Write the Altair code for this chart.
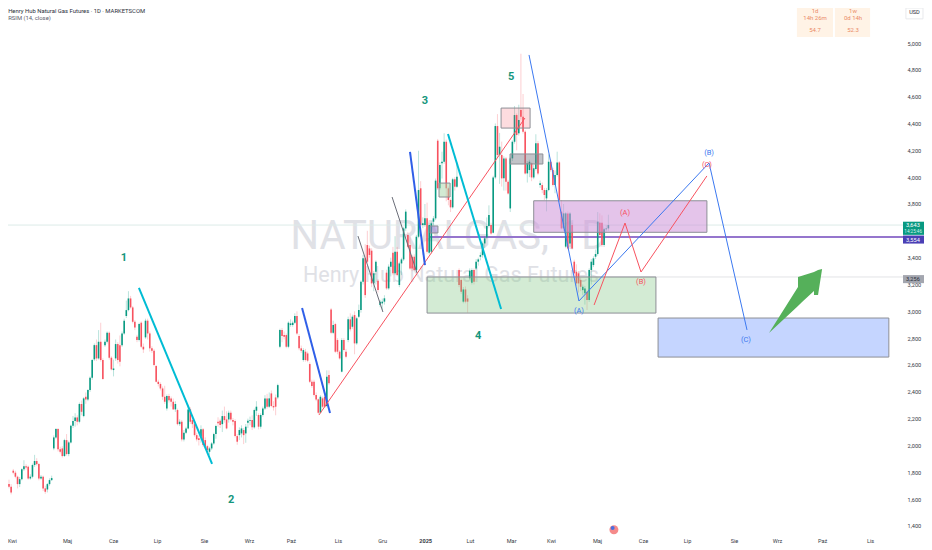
import altair as alt
import pandas as pd

# ---------- candles (price in thousandths as on the axis) ----------
opens = [
 1712,1692,1812,1797,1767,1712,1749,1822,1846,1841,1754,1767,1854,1884,1861,1754,1767,1680,1672,1712,1742,
 1978,2060,2122,1971,1978,1921,2040,1936,2023,2147,2182,2209,2177,2309,2219,2363,2343,2413,2505,2642,2748,2649,2773,2637,2748,2773,2840,2654,2562,2649,2756,2748,2748,2835,2965,3009,3096,3029,2922,2811,2786,2915,2736,2806,2930,2835,
 2724,2706,2592,2475,2458,2425,2363,2276,2368,2351,2326,2269,2264,2159,2177,2045,2095,2127,2269,2189,2159,2077,2053,2065,2120,2040,1995,1953,1978,2015,2085,2177,2184,2159,2219,2194,2194,2244,2189,2182,2070,2077,2090,2115,2090,2169,2184,2189,2135,2259,2227,2140,2227,2276,2351,2289,2388,2294,2358,2358,
 2736,2860,2823,2823,2736,2898,2898,2915,2965,2816,2724,2637,2699,2686,2607,2475,2475,2376,2344,2244,2351,2363,2294,2525,
 3014,2840,2905,2786,2699,2550,2786,2699,2786,2940,2885,2972,2761,2960,3010,3221,3395,3494,3469,3452,3208,3295,3228,3047,3059,3072,3288,3171,3333,3437,3283,3444,3196,3357,3387,3618,3569,3494,3407,3407,3308,3556,3917,3643,3643,3693,3437,3444,3668,3693,4272,3917,4103,4115,4264,3917,3830,3775,3984,3929,
 3308,3233,3072,3163,3096,3246,3213,3308,3320,3370,3407,3419,3506,3551,3636,3643,3586,3998,4381,4165,4165,3991,4140,3966,3767,4140,4264,4463,4327,4500,4451,4339,4028,4053,4103,3998,4061,4252,3941,3941,3904,3842,3904,4115,4053,3941,4016,4110,3743,3618,3482,3730,3506,3643,3370,3295,3283,3233,3158,3134,3146,3084,3308,3345,3407,3427,3661,3661,3494,3611,3618,
]
closes = [
 1692,1650,1797,1767,1712,1749,1822,1846,1836,1754,1767,1854,1884,1861,1754,1767,1680,1655,1712,1742,1757,
 2060,2122,1971,1953,1921,2040,1936,2023,2147,2182,2209,2177,2309,2251,2351,2343,2413,2505,2637,2748,2649,2773,2637,2495,2773,2840,2654,2567,2574,2756,2637,2624,2835,2930,3009,3096,3029,2922,2880,2786,2905,2736,2716,2930,2835,2724,
 2706,2599,2475,2458,2425,2363,2326,2368,2338,2326,2269,2309,2159,2177,2045,2095,2127,2269,2177,2159,2077,2045,2040,2120,2003,1995,1966,1978,2015,2085,2145,2165,2152,2219,2189,2127,2244,2194,2177,2070,2028,2115,2127,2077,2140,2184,2189,2135,2264,2289,2140,2227,2276,2351,2289,2351,2294,2284,2289,2450,
 2860,2816,2811,2736,2915,2910,2915,2965,2835,2724,2706,2711,2637,2632,2475,2443,2376,2343,2244,2363,2289,2289,2512,2463,
 2840,2898,2699,2699,2649,2786,2711,2662,2940,2866,2960,2761,2948,3010,3221,3395,3121,3370,3420,3208,3283,3370,3159,3072,3072,3097,3171,3333,3370,3283,3444,3270,3357,3387,3618,3743,3482,3320,3320,3308,3556,3904,3643,3656,3693,3444,3643,3656,3693,3974,3917,4091,4115,4264,3917,3830,3775,3984,3929,4004,
 3196,3146,3163,3072,3072,3303,3308,3221,3370,3387,3419,3506,3544,3636,3718,3581,3998,4381,4165,4227,3991,4140,3966,3879,4140,4264,4463,4314,4426,4451,4339,4028,4103,4115,3998,4066,4252,4028,3954,3904,3867,3904,4115,4053,3941,4016,4110,3830,3618,3730,3730,3469,3730,3469,3283,3208,3208,3183,3183,3171,3084,3308,3370,3395,3427,3668,3569,3494,3611,3618,3643,
]
highs = [
 1745,1712,1825,1812,1775,1765,1830,1890,1860,1850,1785,1865,1930,1905,1870,1780,1775,1700,1720,1755,1775,
 2075,2130,2130,1990,1995,2050,2085,2035,2155,2220,2240,2225,2320,2335,2360,2395,2420,2515,2645,2760,2790,2860,2915,2650,2790,2850,2850,2665,2640,2790,2770,2820,2850,2945,3080,3150,3115,3040,2935,2825,2915,2925,2760,2945,2945,2850,
 2740,2720,2600,2490,2470,2440,2445,2380,2385,2365,2350,2330,2275,2195,2190,2115,2140,2290,2285,2210,2175,2095,2075,2150,2130,2060,2005,1990,2025,2095,2155,2210,2200,2260,2290,2255,2260,2260,2205,2195,2085,2135,2150,2130,2160,2200,2215,2225,2275,2330,2240,2240,2290,2375,2385,2395,2410,2330,2380,2460,
 2870,2875,2850,2835,2925,2940,2930,2985,3000,2830,2745,2725,2720,2700,2620,2490,2490,2395,2350,2375,2365,2375,2560,2560,
 3025,2930,2915,2800,2710,2800,2800,2720,2960,2985,2975,3000,2960,3050,3230,3420,3500,3600,3490,3470,3300,3380,3240,3085,3095,3120,3310,3350,3400,3480,3560,3480,3370,3400,3630,3760,3590,3560,3420,3425,3570,4197,3970,3700,3800,3810,3655,3670,3710,3990,4285,4110,4190,4327,4280,3930,3840,3995,4000,4110,
 3320,3245,3180,3185,3120,3320,3320,3320,3390,3400,3440,3520,3560,3700,3790,3660,4010,4400,4470,4330,4265,4155,4150,3980,4150,4275,4530,4475,4540,4920,4620,4350,4120,4130,4110,4090,4320,4270,3975,3960,3920,3920,4170,4130,4070,4050,4190,4120,3830,3800,3740,3745,3740,3660,3385,3350,3300,3250,3200,3190,3160,3320,3390,3410,3460,3740,3730,3715,3620,3640,3720,
]
lows = [
 1680,1635,1785,1755,1680,1690,1740,1810,1820,1745,1745,1755,1840,1850,1740,1745,1660,1640,1650,1700,1735,
 1965,2050,1955,1940,1910,1915,1925,1920,2015,2130,2140,2150,2165,2225,2210,2310,2330,2400,2490,2630,2630,2640,2625,2490,2735,2760,2640,2560,2515,2630,2610,2590,2735,2825,2950,3000,3020,2910,2860,2770,2775,2725,2690,2795,2790,2700,
 2690,2590,2470,2440,2410,2340,2310,2260,2320,2290,2265,2250,2150,2145,2030,2030,2085,2120,2160,2130,2065,2030,2000,2020,1990,1975,1950,1930,1965,2005,2050,2140,2130,2100,2170,2120,2170,2180,2150,2060,2005,2040,2060,2010,2020,2130,2150,2115,2125,2220,2120,2125,2215,2265,2275,2280,2285,2260,2225,2345,
 2725,2770,2790,2725,2725,2885,2885,2905,2825,2710,2690,2625,2625,2620,2465,2430,2365,2330,2235,2240,2280,2280,2285,2450,
 2830,2830,2690,2680,2640,2545,2700,2650,2770,2850,2870,2680,2750,2950,2990,3200,3100,3360,3400,3180,3150,3200,3140,3030,3010,3050,3160,3160,3260,3270,3270,3260,3180,3270,3375,3600,3470,3310,3300,3300,3300,3545,3630,3620,3630,3430,3425,3430,3640,3680,3905,3905,3990,4100,3820,3790,3740,3765,3900,3920,
 3180,3130,3060,3060,2990,3235,3200,3200,3310,3340,3380,3400,3470,3540,3625,3570,3580,3985,4150,3950,3930,3900,3900,3870,3740,4120,4250,4200,4310,4430,4325,4020,3960,4000,3970,3985,4050,4015,3920,3880,3830,3745,3895,4040,3930,3880,4005,3815,3610,3600,3470,3460,3480,3460,3260,3190,3140,3150,3120,3050,3010,3070,3200,3330,3390,3415,3560,3480,3480,3595,3600,
]

# ---------- drawings, in bar number / price ----------
zone_names = ["pink", "grey", "smallgreen", "smallpurple", "purple", "green", "blue"]
zone_x1 = [230.7, 234.9, 201.6, 197.4, 246.0, 196.0, 304.3]
zone_x2 = [244.3, 250.3, 206.8, 201.1, 327.2, 303.3, 412.5]
zone_hi = [4515, 4173, 3956, 3636, 3824, 3256, 2950]
zone_lo = [4366, 4098, 3852, 3584, 3589, 2987, 2659]
zone_fill = ["#f7525f", "#787b86", "#a5d6a7", "#9575cd", "#ce93d8", "#81c784", "#2962ff"]
zone_alpha = [0.2, 0.45, 0.5, 0.5, 0.55, 0.35, 0.27]

seg_id = ["c1","c1","b1","b1","r1","r1","g1","g1","g2","g2","b2","b2","c2","c2",
          "bp","bp","bp","bp","rp","rp","rp","rp"]
seg_x = [60.9,95.2,137.4,150.5,145.3,241.9,163.6,175.3,179.6,191.3,188.0,195.0,205.8,230.7,
         243.8,267.2,328.2,346.0,274.3,288.8,296.3,327.2]
seg_p = [3174,1862,3025,2242,2227,4441,3561,2995,3852,3286,4188,3345,4322,3017,
         4911,3077,4106,2861,3047,3658,3293,4009]
seg_color = {"c1":"#00bcd4","c2":"#00bcd4","b1":"#2f5fe8","b2":"#2f5fe8","r1":"#f7525f","rp":"#f7525f",
             "g1":"#6a6d78","g2":"#6a6d78","bp":"#3b78f0"}
seg_width = {"c1":2,"c2":2,"b1":2,"b2":2,"r1":1,"rp":1,"g1":1,"g2":1,"bp":1}

arrow_x = [356.3, 369.9, 369.9, 371.8, 377.4, 377.4, 379.3, 381.2]
arrow_top = [2838, 3181, 3256, 3265, 3293, 3293, 3308, 3315]
arrow_bot = [2838, 3040, 3040, 3069, 3151, 3122, 3122, 3315]

wave_text = ["1", "2", "3", "4", "5"]
wave_x = [53.9, 104.1, 195.0, 219.9, 235.4]
wave_p = [3400, 1595, 4565, 2815, 4750]

abc_text = ["(A)", "(B)", "(C)", "(A)", "(B)", "(C)"]
abc_x = [288.8, 296.3, 327.2, 267.2, 328.2, 345.5]
abc_p = [3735, 3215, 4090, 3000, 4180, 2785]
abc_color = ["#f7525f"] * 3 + ["#3b78f0"] * 3

level_p = [3643, 3554, 3256]
level_x1 = [-0.47, 197.4, 196.0]
level_color = ["#dcebe8", "#9575cd", "#e2e3e6"]
level_width = [1, 2, 1]

month_labels = ["Kwi","Maj","Cze","Lip","Sie","Wrz","Paź","Lis","Gru","2025","Lut","Mar","Kwi","Maj","Cze","Lip","Sie","Wrz","Paź","Lis"]
month_bars = [1.4,27.2,48.8,69.4,91.4,112.5,132.2,154.2,174.9,195.1,216.1,235.4,254.1,275.7,297.2,317.9,339.9,360.1,381.2,403.7]
price_ticks = [5000,4800,4600,4400,4200,4000,3800,3400,3200,3000,2800,2600,2400,2200,2000,1800,1600,1400]

X_MIN, X_MAX = -0.47, 419.13
Y_MIN, Y_MAX = 1355, 5261
xs = alt.Scale(domain=[X_MIN, X_MAX], nice=False, zero=False)
ys = alt.Scale(domain=[Y_MIN, Y_MAX], nice=False, zero=False)
FONT = "Roboto"

label_map = "{" + ",".join(f"'{b}':'{m}'" for b, m in zip(month_bars, month_labels)) + "}"
x_axis = alt.Axis(values=month_bars, labelExpr=f"{label_map}[''+datum.value]", title=None, grid=False, domain=False,
                  ticks=False, labelFontSize=5.6, labelFont=FONT, labelColor="#363a45", labelPadding=6, labelOverlap=False,
                  labelFontWeight=alt.condition("datum.value==195.1", alt.value("bold"), alt.value("normal")))
y_axis = alt.Axis(values=price_ticks, labelExpr="format(datum.value, ',')", orient="right", title=None, grid=False, domain=False, ticks=False,
                  labelFontSize=5.6, labelFont=FONT, labelColor="#363a45", labelPadding=4, labelOverlap=False)

def X(f="x", **k):
    return alt.X(f"{f}:Q", scale=xs, axis=x_axis, title=None, **k)
def Y(f="p", **k):
    return alt.Y(f"{f}:Q", scale=ys, axis=y_axis, title=None, **k)

n = len(closes)
candles = pd.DataFrame({"x": list(range(n)), "o": opens[:n], "c": closes, "h": highs[:n], "l": lows[:n]})
candles["dir"] = ["up" if c >= o else "down" for o, c in zip(candles.o, candles.c)]
dir_scale = alt.Scale(domain=["up", "down"], range=["#089981", "#f7525f"])

# watermark
wm = pd.DataFrame({"t": ["NATURALGAS, 1D", "Henry Hub Natural Gas Futures"], "x": [206.3, 207.2], "p": [3555, 3260], "s": [40, 21.5]})
watermark = alt.Chart(wm).mark_text(font=FONT, color="#e0e1e6", align="center", baseline="middle").encode(
    x=X(), y=Y(), text="t:N", size=alt.Size("s:Q", scale=None, legend=None))

levels = pd.DataFrame({"p": level_p, "x": level_x1, "x2": [X_MAX] * 3, "col": level_color, "w": level_width})
level_rules = alt.Chart(levels).mark_rule().encode(
    x=X(), x2="x2:Q", y=Y(), color=alt.Color("col:N", scale=None), strokeWidth=alt.StrokeWidth("w:Q", scale=None))

wicks = alt.Chart(candles).mark_rule(strokeWidth=1, opacity=0.28).encode(
    x=X(), y=Y("l"), y2="h:Q", color=alt.Color("dir:N", scale=dir_scale, legend=None))
bodies = alt.Chart(candles).mark_rule(strokeWidth=1.6).encode(
    x=X(), y=Y("o"), y2="c:Q", color=alt.Color("dir:N", scale=dir_scale, legend=None))

zones = pd.DataFrame({"n": zone_names, "x": zone_x1, "x2": zone_x2, "p": zone_hi, "p2": zone_lo, "f": zone_fill, "a": zone_alpha})
zone_rects = alt.Chart(zones).mark_rect(stroke="#8d8f96", strokeWidth=1).encode(
    x=X(), x2="x2:Q", y=Y(), y2="p2:Q", fill=alt.Fill("f:N", scale=None), fillOpacity=alt.FillOpacity("a:Q", scale=None))

segs = pd.DataFrame({"id": seg_id, "x": seg_x, "p": seg_p, "i": list(range(len(seg_x)))})
segs["col"] = [seg_color[s] for s in seg_id]
segs["w"] = [seg_width[s] for s in seg_id]
lines = alt.Chart(segs).mark_line(clip=False).encode(
    x=X(), y=Y(), detail="id:N", order="i:Q", color=alt.Color("col:N", scale=None),
    strokeWidth=alt.StrokeWidth("w:Q", scale=None))

arr = pd.DataFrame({"x": arrow_x, "t": arrow_top, "b": arrow_bot})
arrow = alt.Chart(arr).mark_area(color="#55b05a", opacity=1).encode(x=X(), y=Y("t"), y2="b:Q")

waves = pd.DataFrame({"t": wave_text, "x": wave_x, "p": wave_p})
wave_labels = alt.Chart(waves).mark_text(font=FONT, fontSize=11, fontWeight="bold", color="#14967c").encode(x=X(), y=Y(), text="t:N")
abc = pd.DataFrame({"t": abc_text, "x": abc_x, "p": abc_p, "col": abc_color})
abc_labels = alt.Chart(abc).mark_text(font=FONT, fontSize=7.5).encode(x=X(), y=Y(), text="t:N", color=alt.Color("col:N", scale=None))

# header
head = pd.DataFrame({"t": ["Henry Hub Natural Gas Futures · 1D · MARKETSCOM", "RSIM (14, close)"], "x": [-0.4, -0.4], "p": [5236, 5190],
                     "col": ["#2a2e39", "#5d606b"]})
header = alt.Chart(head).mark_text(font=FONT, fontSize=5.9, align="left").encode(
    x=X(), y=Y(), text="t:N", color=alt.Color("col:N", scale=None))

# RSI boxes
box_x1 = [369.4, 387.2]
box_x2 = [386.3, 403.7]
boxes = pd.DataFrame({"x": box_x1, "x2": box_x2, "p": [5261, 5261], "p2": [5045, 5045]})
rsi_boxes = alt.Chart(boxes).mark_rect(fill="#fff3e6").encode(x=X(), x2="x2:Q", y=Y(), y2="p2:Q")
rsi_t = pd.DataFrame({"t": ["1d", "14h 26m", "54.7", "1w", "0d 14h", "52.3"],
                      "x": [377.9] * 3 + [395.7] * 3, "p": [5240, 5186, 5097] * 2})
rsi_text = alt.Chart(rsi_t).mark_text(font=FONT, fontSize=6, color="#ea8a66").encode(x=X(), y=Y(), text="t:N")

# right side price tags
tags = pd.DataFrame({"x": [419.13] * 3, "x2": [431.8] * 3, "p": [3668, 3565, 3270], "p2": [3570, 3505, 3210],
                     "f": ["#089981", "#4a3fb5", "#a3a6af"]})
tag_rects = alt.Chart(tags).mark_rect(clip=False).encode(x=X(), x2="x2:Q", y=Y(), y2="p2:Q", fill=alt.Fill("f:N", scale=None))
tag_t = pd.DataFrame({"t": ["3,643", "14:25:46", "3,554", "3,256"], "x": [423.8, 423.9, 423.8, 423.8],
                      "p": [3640, 3592, 3535, 3240], "col": ["#ffffff", "#d8f2ec", "#ffffff", "#2a2e39"],
                      "s": [5.6, 4.6, 5.6, 5.6]})
tag_text = alt.Chart(tag_t).mark_text(font=FONT).encode(x=X(), y=Y(), text="t:N", color=alt.Color("col:N", scale=None),
                                                        size=alt.Size("s:Q", scale=None, legend=None))

# USD box
usd_box = alt.Chart(pd.DataFrame({"x": [420.5], "x2": [428.5], "p": [5261], "p2": [5180]})).mark_rect(
    fill="#ffffff", stroke="#e8e9ec").encode(x=X(), x2="x2:Q", y=Y(), y2="p2:Q")
usd = alt.Chart(pd.DataFrame({"t": ["USD"], "x": [424.5], "p": [5232]})).mark_text(font=FONT, fontSize=5.6, color="#2a2e39").encode(
    x=X(), y=Y(), text="t:N")

# flag marker
flag_x = [283.6]
flag_p = [1372]
flag = alt.Chart(pd.DataFrame({"x": flag_x, "p": flag_p})).mark_point(filled=True, size=80, color="#f58a8a", opacity=1).encode(x=X(), y=Y())
flag2 = alt.Chart(pd.DataFrame({"x": [283.0], "p": [1385]})).mark_point(filled=True, size=16, color="#4a6fe0", opacity=1).encode(x=X(), y=Y())

chart = alt.layer(
    watermark, level_rules, wicks, bodies, zone_rects, lines, arrow, wave_labels, abc_labels,
    header, rsi_boxes, rsi_text, tag_rects, tag_text, usd_box, usd, flag, flag2
).properties(
    width=895, height=524,
    autosize=alt.AutoSizeParams(type="none"),
    padding={"left": 0, "top": 0, "right": 21, "bottom": 16},
    background="#ffffff",
).configure_view(stroke=None)

chart.save("out.html", embed_options={"renderer": "svg", "actions": False})
